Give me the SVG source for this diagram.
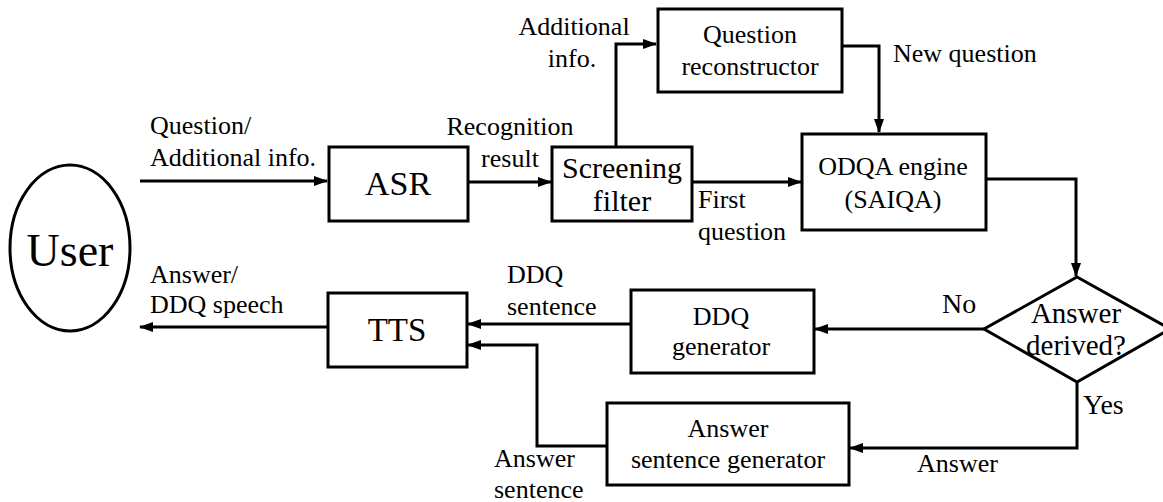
<svg xmlns="http://www.w3.org/2000/svg" width="1163" height="502" viewBox="0 0 1163 502">
<style>
text{font-family:"Liberation Serif","Times New Roman",serif;fill:#000;font-size:26px}
.m{text-anchor:middle}
.box{fill:#fff;stroke:#000;stroke-width:3}
.c{fill:none;stroke:#000;stroke-width:3;marker-end:url(#ah)}
</style>
<defs>
<marker id="ah" viewBox="0 0 14 10" refX="13" refY="5" markerWidth="14" markerHeight="10" markerUnits="userSpaceOnUse" orient="auto">
<path d="M0,0 L14,5 L0,10 z" fill="#000"/>
</marker>
</defs>
<rect width="1163" height="502" fill="#fff"/>
<g id="connectors">
<path class="c" d="M140,181 H327"/>
<path class="c" d="M468,182 H551"/>
<path class="c" d="M616,147 V44 H656"/>
<path class="c" d="M842,46 H879 V132"/>
<path class="c" d="M692,182 H801"/>
<path class="c" d="M986,179 H1076 V276"/>
<path class="c" d="M984,329 H815"/>
<path class="c" d="M1077,382 V448 H850"/>
<path class="c" d="M631,324 H468"/>
<path class="c" d="M607,446 H537 V345 H468"/>
<path class="c" d="M328,327 H140"/>
<text x="150" y="134">Question/</text>
<text x="150" y="166">Additional info.</text>
<text class="m" x="510" y="135">Recognition</text>
<text class="m" x="510" y="167">result</text>
<text class="m" x="574" y="35">Additional</text>
<text class="m" x="572" y="67">info.</text>
<text x="893" y="62">New question</text>
<text x="698" y="208">First</text>
<text x="698" y="240">question</text>
<text x="942" y="313" style="font-size:28px">No</text>
<text x="1083" y="414" style="font-size:28px">Yes</text>
<text x="917" y="472">Answer</text>
<text x="507" y="283">DDQ</text>
<text x="507" y="315">sentence</text>
<text x="494" y="467">Answer</text>
<text x="494" y="498">sentence</text>
<text x="150" y="283">Answer/</text>
<text x="150" y="313">DDQ speech</text>
</g>
<g id="user">
<ellipse cx="70" cy="248" rx="60" ry="83" fill="#fff" stroke="#000" stroke-width="3"/>
<text class="m" x="70" y="266" style="font-size:46px">User</text>
</g>
<g id="asr">
<rect class="box" x="329" y="147" width="139" height="74"/>
<text class="m" x="398" y="195" style="font-size:34px">ASR</text>
</g>
<g id="screening">
<rect class="box" x="552" y="147" width="140" height="74"/>
<text class="m" x="622" y="178" style="font-size:30px">Screening</text>
<text class="m" x="622" y="211" style="font-size:30px">filter</text>
</g>
<g id="reconstructor">
<rect class="box" x="658" y="9" width="184" height="83"/>
<text class="m" x="750" y="43">Question</text>
<text class="m" x="750" y="75">reconstructor</text>
</g>
<g id="odqa">
<rect class="box" x="802" y="134" width="184" height="96"/>
<text class="m" x="893" y="175">ODQA engine</text>
<text class="m" x="893" y="208">(SAIQA)</text>
</g>
<g id="decision">
<polygon points="1077,277 1170,329 1077,382 984,329" fill="#fff" stroke="#000" stroke-width="3"/>
<text class="m" x="1076" y="323" style="font-size:29px">Answer</text>
<text class="m" x="1076" y="355" style="font-size:29px">derived?</text>
</g>
<g id="ddq">
<rect class="box" x="631" y="290" width="183" height="83"/>
<text class="m" x="721" y="325">DDQ</text>
<text class="m" x="721" y="355">generator</text>
</g>
<g id="asg">
<rect class="box" x="607" y="403" width="242" height="82"/>
<text class="m" x="728" y="437">Answer</text>
<text class="m" x="728" y="468">sentence generator</text>
</g>
<g id="tts">
<rect class="box" x="328" y="293" width="139" height="74"/>
<text class="m" x="397" y="341" style="font-size:33px">TTS</text>
</g>
</svg>
